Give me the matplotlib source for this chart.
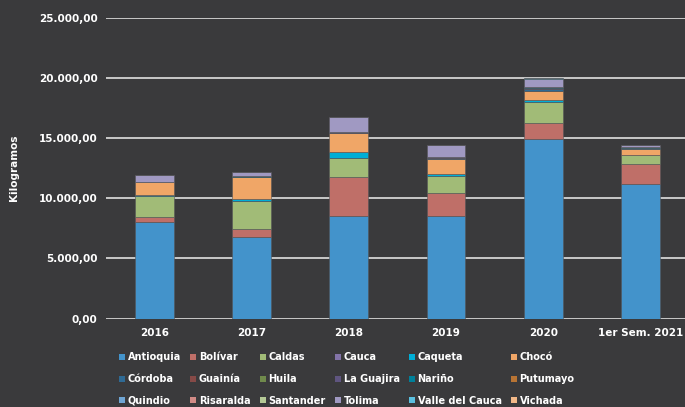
import numpy as np
import matplotlib.pyplot as plt
from matplotlib.patches import Patch
from matplotlib.ticker import FuncFormatter

years = ["2016", "2017", "2018", "2019", "2020", "1er Sem. 2021"]

departamentos = ["Antioquia", "Bolívar", "Caldas", "Cauca", "Caqueta", "Chocó",
                 "Córdoba", "Guainía", "Huila", "La Guajira", "Nariño", "Putumayo",
                 "Quindio", "Risaralda", "Santander", "Tolima", "Valle del Cauca", "Vichada"]

# kilogramos por departamento y año
antioquia = [7980, 6790, 8500, 8540, 14940, 11200]
bolivar = [440, 610, 3240, 1885, 1330, 1636]
caldas = [1745, 2380, 1580, 1440, 1750, 720]
cauca = [0, 0, 0, 0, 0, 0]
caqueta = [110, 110, 470, 160, 110, 55]
choco = [1050, 1860, 1600, 1240, 770, 500]
cordoba = [0, 0, 0, 70, 200, 60]
guainia = [0, 0, 0, 0, 0, 0]
huila = [0, 0, 0, 0, 0, 0]
la_guajira = [50, 0, 110, 70, 60, 0]
narino = [0, 110, 0, 30, 40, 40]
putumayo = [0, 0, 0, 0, 60, 0]
quindio = [0, 0, 0, 0, 0, 0]
risaralda = [0, 0, 0, 0, 0, 0]
santander = [0, 0, 0, 0, 0, 0]
tolima = [530, 280, 1275, 950, 620, 220]
valle = [0, 0, 0, 0, 70, 0]
vichada = [0, 0, 0, 0, 0, 0]

series = [antioquia, bolivar, caldas, cauca, caqueta, choco,
          cordoba, guainia, huila, la_guajira, narino, putumayo,
          quindio, risaralda, santander, tolima, valle, vichada]

colors = ["#4393cb", "#bf6f68", "#a1bb77", "#8273a8", "#00aed6", "#f0a667",
          "#2f6a94", "#864a47", "#708a4c", "#5f5580", "#00809a", "#b87434",
          "#6fa5d4", "#d28b86", "#b5c996", "#a099c2", "#5ac0e0", "#f2b888"]

bg = "#3a3a3c"
plt.rcParams['font.family'] = ['DejaVu Sans']

fig = plt.figure(figsize=(6.85, 4.07), dpi=100, facecolor=bg)
ax = fig.add_axes([0.1547, 0.2174, 0.851, 0.7396], facecolor=bg)

ind = np.arange(len(years))
bottom = np.zeros(len(years))
for vals, c in zip(series, colors):
    vals = np.array(vals, dtype=float)
    ax.bar(ind, vals, 0.4, bottom=bottom, color=c, edgecolor="#555558",
           linewidth=0.4, zorder=3)
    bottom += vals

ax.set_ylim(0, 25000)
ax.set_xlim(-0.5, len(years) - 0.5)
ax.set_yticks(np.arange(0, 25001, 5000))
ax.yaxis.set_major_formatter(FuncFormatter(
    lambda v, p: f"{v:,.2f}".replace(",", "X").replace(".", ",").replace("X", ".")))
ax.grid(axis="y", color="#c8c8c8", linewidth=1.4, zorder=0)
for s in ax.spines.values():
    s.set_visible(False)
ax.tick_params(axis="both", length=0, colors="white", labelsize=7.5)
ax.tick_params(axis="y", pad=6)
ax.tick_params(axis="x", pad=7)
ax.set_xticks(ind)
ax.set_xticklabels(years)
for lbl in ax.get_xticklabels() + ax.get_yticklabels():
    lbl.set_fontweight("bold")
ax.set_ylabel("Kilogramos", color="white", fontsize=7.5, fontweight="bold", labelpad=14)

# legend laid out row by row, 6 per row
handles = [Patch(facecolor=c, edgecolor="none") for c in colors]
order = [r * 6 + c for c in range(6) for r in range(3)]
leg = fig.legend([handles[i] for i in order], [departamentos[i] for i in order],
                 ncol=6, loc="upper left", bbox_to_anchor=(0.174, 0.134),
                 frameon=False, prop={"size": 7, "weight": "bold"},
                 handlelength=0.6, handleheight=0.6,
                 handletextpad=0.25, columnspacing=1.0, labelspacing=1.2,
                 borderaxespad=0, borderpad=0)
for t in leg.get_texts():
    t.set_color("white")

fig.savefig("out.png", dpi=100, facecolor=bg)
